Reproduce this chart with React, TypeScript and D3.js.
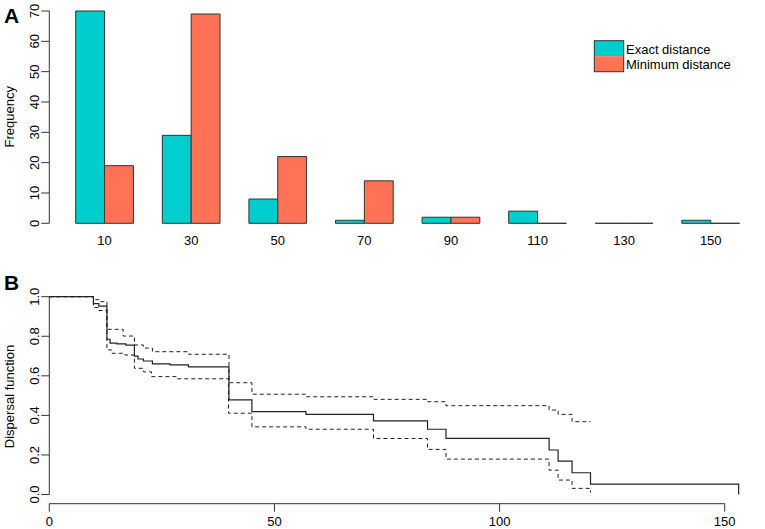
import * as d3 from "d3";

// Panel A: histogram of dispersal distances
const distanceBins = ["10", "30", "50", "70", "90", "110", "130", "150"];
const exactCounts = [70, 29, 8, 1, 2, 4, 0, 1];
const minimumCounts = [19, 69, 22, 14, 2, 0, 0, 0];
const seriesNames = ["Exact distance", "Minimum distance"];
const freqTicks = [0, 10, 20, 30, 40, 50, 60, 70];

// Panel B: dispersal function (step curve) with confidence band
const survTimes = [0, 9.8, 11, 12.8, 13.5, 15, 17, 18.9, 19.7, 20.9, 22.9, 26.8, 30.9, 39.9, 45, 57, 72, 84, 88.1, 111, 113, 116.1, 120.2, 153.1];
const survValues = [1, 0.965, 0.952, 0.785, 0.765, 0.762, 0.755, 0.7, 0.685, 0.675, 0.66, 0.655, 0.645, 0.478, 0.419, 0.405, 0.372, 0.33, 0.284, 0.225, 0.169, 0.11, 0.052, 0];
const upperTimes = [0, 9.8, 11, 12.8, 16.4, 18.9, 20.9, 22.9, 30.9, 39.9, 45, 57, 72, 84, 88.1, 111, 113, 116.1, 120.2];
const upperValues = [1, 0.985, 0.975, 0.835, 0.801, 0.756, 0.74, 0.722, 0.709, 0.565, 0.507, 0.494, 0.481, 0.469, 0.449, 0.427, 0.405, 0.368, 0.368];
const lowerTimes = [0, 9.8, 11, 12.8, 13.9, 16.8, 18.9, 20.9, 22.7, 28.3, 39.8, 45, 57, 72, 84, 88.1, 111, 113, 116.1, 120.2];
const lowerValues = [1, 0.945, 0.93, 0.731, 0.714, 0.705, 0.638, 0.62, 0.596, 0.585, 0.411, 0.342, 0.33, 0.283, 0.228, 0.179, 0.123, 0.073, 0.031, 0.01];
const distTicks = [0, 50, 100, 150];
const dispTicks = [0, 0.2, 0.4, 0.6, 0.8, 1.0];

const colors = ["#00CDCD", "#FF7256"];
const font = "'Liberation Sans', Arial, sans-serif";

export default function App() {
  const width = 765;
  const height = 529;

  // scales for A
  const xGroup = d3.scaleBand<string>().domain(distanceBins).range([75.7, 739.6]).paddingInner(1 / 3).paddingOuter(0);
  const xInner = d3.scaleBand<number>().domain([0, 1]).range([0, xGroup.bandwidth()]).padding(0);
  const yFreq = d3.scaleLinear().domain([0, 70]).range([223.3, 11]);

  // scales for B
  const xDist = d3.scaleLinear().domain([0, 150]).range([49.3, 724.7]);
  const yDisp = d3.scaleLinear().domain([0, 1]).range([494.5, 296.7]);

  const step = d3
    .line<[number, number]>()
    .x((d) => xDist(d[0]))
    .y((d) => yDisp(d[1]))
    .curve(d3.curveStepAfter);

  const surv = d3.zip(survTimes, survValues) as [number, number][];
  const upper = d3.zip(upperTimes, upperValues) as [number, number][];
  const lower = d3.zip(lowerTimes, lowerValues) as [number, number][];

  const bars = distanceBins.flatMap((bin, i) =>
    [exactCounts[i], minimumCounts[i]].map((v, s) => {
      const x0 = (xGroup(bin) ?? 0) + (xInner(s) ?? 0);
      const x1 = x0 + xInner.bandwidth();
      const y0 = yFreq(0);
      const y1 = yFreq(v);
      return { key: `${bin}-${s}`, d: `M${x0},${y0}V${y1}H${x1}V${y0}Z`, fill: colors[s] };
    })
  );

  const legendX = 594.3;
  const legendY = 40.7;
  const legendH = 15.5;
  const legendW = 29.4;

  return (
    <svg width={width} height={height} style={{ position: "absolute", left: 0, top: 0, background: "#fff" }} fontFamily={font}>
      {/* Panel A */}
      <text x={4} y={23} fontSize={21} fontWeight="bold">A</text>
      {bars.map((b) => (
        <path key={b.key} d={b.d} fill={b.fill} stroke="#333" strokeWidth={1} />
      ))}
      <line x1={49.3} x2={49.3} y1={yFreq(0)} y2={yFreq(70)} stroke="#333" />
      {freqTicks.map((t) => (
        <g key={t}>
          <line x1={41.3} x2={49.3} y1={yFreq(t)} y2={yFreq(t)} stroke="#333" />
          <text transform={`translate(38.5,${yFreq(t)}) rotate(-90)`} textAnchor="middle" fontSize={13}>
            {t}
          </text>
        </g>
      ))}
      <text transform="translate(14,116.7) rotate(-90)" textAnchor="middle" fontSize={13}>
        Frequency
      </text>
      {distanceBins.map((b) => (
        <text key={b} x={(xGroup(b) ?? 0) + xGroup.bandwidth() / 2} y={245} textAnchor="middle" fontSize={13}>
          {b}
        </text>
      ))}
      {seriesNames.map((name, i) => (
        <g key={name}>
          <rect x={legendX} y={legendY + i * legendH} width={legendW} height={legendH} fill={colors[i]} />
          <text x={626} y={54 + i * 15} fontSize={13}>
            {name}
          </text>
        </g>
      ))}
      <rect x={legendX} y={legendY} width={legendW} height={legendH * 2} fill="none" stroke="#333" />

      {/* Panel B */}
      <text x={4} y={290} fontSize={21} fontWeight="bold">B</text>
      <path d={step(upper) ?? ""} fill="none" stroke="#222" strokeWidth={1} strokeDasharray="4,3" />
      <path d={step(lower) ?? ""} fill="none" stroke="#222" strokeWidth={1} strokeDasharray="4,3" />
      <path d={step(surv) ?? ""} fill="none" stroke="#222" strokeWidth={1.2} />
      <line x1={49.3} x2={49.3} y1={yDisp(0)} y2={yDisp(1)} stroke="#333" />
      {dispTicks.map((t) => (
        <g key={t}>
          <line x1={41.3} x2={49.3} y1={yDisp(t)} y2={yDisp(t)} stroke="#333" />
          <text transform={`translate(38.5,${yDisp(t)}) rotate(-90)`} textAnchor="middle" fontSize={13}>
            {t.toFixed(1)}
          </text>
        </g>
      ))}
      <text transform="translate(14,396.5) rotate(-90)" textAnchor="middle" fontSize={13}>
        Dispersal function
      </text>
      <line x1={xDist(0)} x2={xDist(150)} y1={503.7} y2={503.7} stroke="#333" />
      {distTicks.map((t) => (
        <g key={t}>
          <line x1={xDist(t)} x2={xDist(t)} y1={503.7} y2={511.7} stroke="#333" />
          <text x={xDist(t)} y={525.5} textAnchor="middle" fontSize={13}>
            {t}
          </text>
        </g>
      ))}
    </svg>
  );
}
